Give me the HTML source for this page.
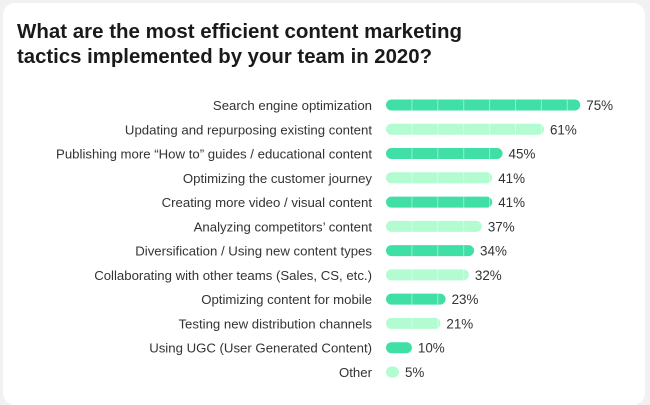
<!DOCTYPE html>
<html><head><meta charset="utf-8"><style>
html,body{margin:0;padding:0;background:#f1f1f1;}
body{width:650px;height:405px;position:relative;overflow:hidden;font-family:"Liberation Sans",sans-serif;}
#card{position:absolute;left:3px;top:3px;width:642px;height:402px;background:#fff;border-radius:12px;}
</style></head><body>
<div id="card"></div>
<svg id="chart" width="650" height="405" style="position:absolute;left:0;top:0">
<text x="17" y="38" font-size="20.5" font-weight="bold" fill="#1a1a1a" font-family="Liberation Sans, sans-serif" textLength="445" lengthAdjust="spacingAndGlyphs">What are the most efficient content marketing</text>
<text x="17" y="63" font-size="20.5" font-weight="bold" fill="#1a1a1a" font-family="Liberation Sans, sans-serif" textLength="415" lengthAdjust="spacingAndGlyphs">tactics implemented by your team in 2020?</text>
</svg>
<script>
const categories=["Search engine optimization","Updating and repurposing existing content","Publishing more \u201cHow to\u201d guides / educational content","Optimizing the customer journey","Creating more video / visual content","Analyzing competitors\u2019 content","Diversification / Using new content types","Collaborating with other teams (Sales, CS, etc.)","Optimizing content for mobile","Testing new distribution channels","Using UGC (User Generated Content)","Other"];
const values=[75,61,45,41,41,37,34,32,23,21,10,5];
const valueLabels=["75%","61%","45%","41%","41%","37%","34%","32%","23%","21%","10%","5%"];
const svg=document.getElementById('chart');
const NS="http://www.w3.org/2000/svg";
const x0=386,pxPer=2.59,y0=105,pitch=24.27,bh=11;
function xs(v){return v*pxPer;}
function ys(i){return y0+i*pitch;}
categories.forEach((c,i)=>{
  const y=ys(i);const w=Math.max(xs(values[i]),bh);
  const col=i%2===0?"#40dfa6":"#b3fbd0";
  const t=document.createElementNS(NS,'text');
  
  
  t.setAttribute('x',372);t.setAttribute('y',y+5);t.setAttribute('text-anchor','end');
  t.setAttribute('font-size','13.2');t.setAttribute('fill','#333');t.setAttribute('font-family','Liberation Sans, sans-serif');
  t.textContent=c;svg.appendChild(t);
  const r=document.createElementNS(NS,'rect');
  
  
  r.setAttribute('x',x0);r.setAttribute('y',y-bh/2);r.setAttribute('width',w);r.setAttribute('height',bh);
  r.setAttribute('rx',bh/2);r.setAttribute('fill',col);svg.appendChild(r);
  for(let g=10;g<values[i];g+=10){
    const l=document.createElementNS(NS,'line');
    
    
    const gx=x0+xs(g);
    l.setAttribute('x1',gx);l.setAttribute('x2',gx);l.setAttribute('y1',y-bh/2);l.setAttribute('y2',y+bh/2);
    l.setAttribute('stroke','#fff');l.setAttribute('stroke-opacity','0.45');l.setAttribute('stroke-width','1');svg.appendChild(l);
  }
  const v=document.createElementNS(NS,'text');
  
  
  v.setAttribute('x',x0+w+6);v.setAttribute('y',y+5);
  v.setAttribute('font-size','13.4');v.setAttribute('fill','#333');v.setAttribute('font-family','Liberation Sans, sans-serif');
  v.textContent=valueLabels[i];svg.appendChild(v);
});
</script>
</body></html>
